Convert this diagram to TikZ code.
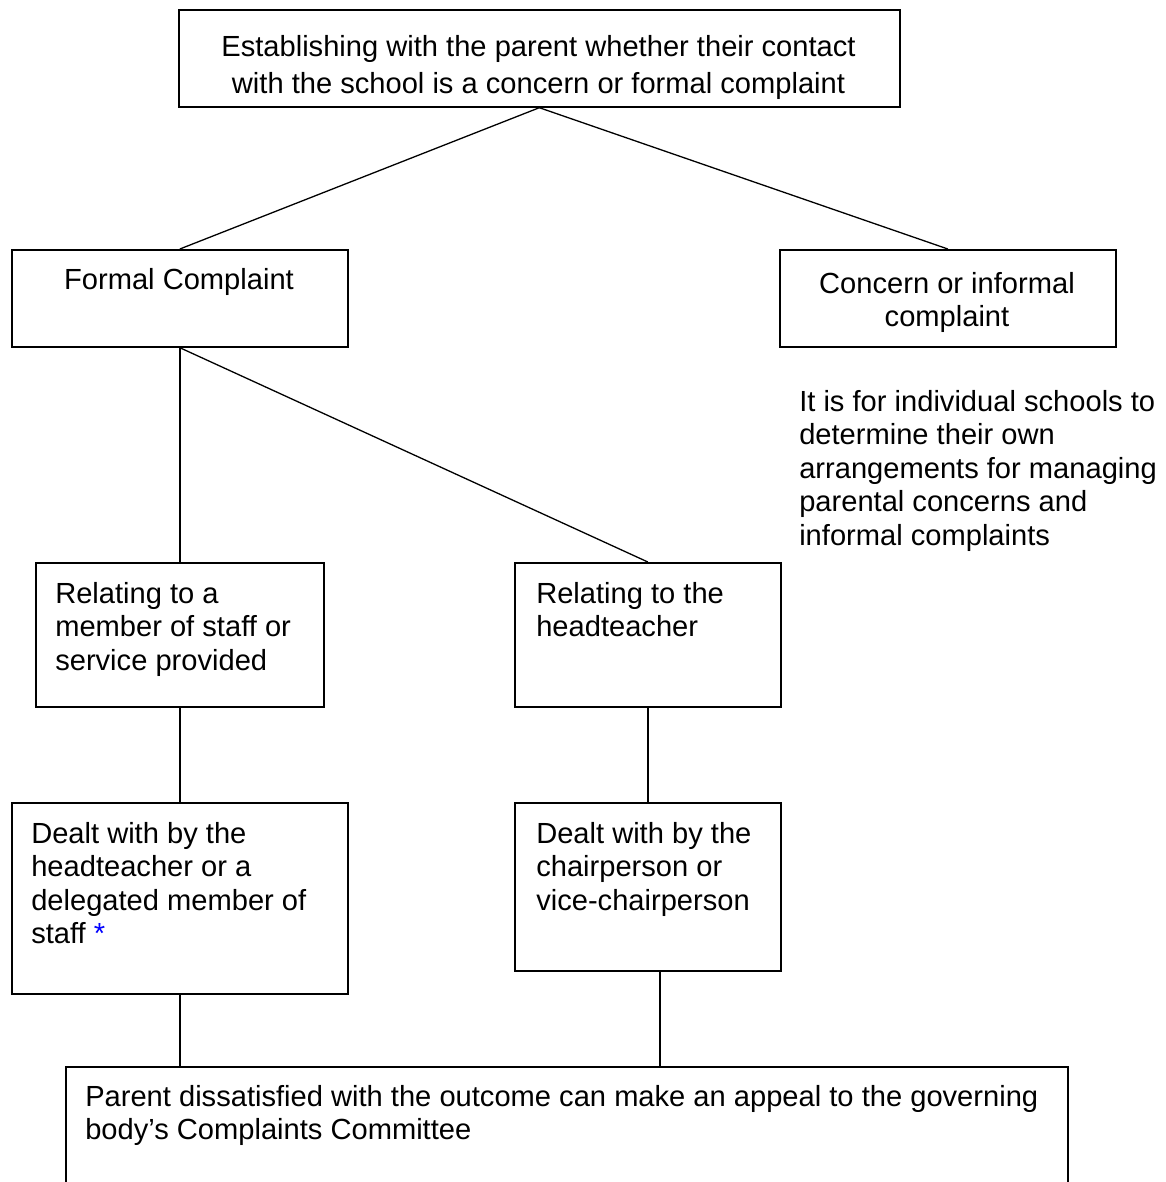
\documentclass[tikz,border=0pt]{standalone}
\usepackage{fontspec}
\setmainfont{Liberation Sans}
\newdimen\pxu \pxu=0.75pt
\begin{document}
\begin{tikzpicture}[x=0.75pt,y=-0.75pt,
  box/.style={draw, line width=1.7\pxu, inner sep=0pt, anchor=north west},
  txt/.style={inner sep=0pt, font=\fontsize{21.83pt}{25.1pt}\selectfont},
  txttop/.style={inner sep=0pt, font=\fontsize{21.83pt}{27.75pt}\selectfont},
  conn/.style={line width=1.3\pxu}]
\useasboundingbox (0,0) rectangle (1165,1182);
\clip (0,0) rectangle (1165,1182);
\fill[white] (0,0) rectangle (1165,1182);

% boxes
\node[box, minimum width=721\pxu, minimum height=97\pxu]  (top)     at (178,9) {};
\node[box, minimum width=336\pxu, minimum height=97\pxu]  (formal)  at (11,249) {};
\node[box, minimum width=336\pxu, minimum height=97\pxu]  (concern) at (779,249) {};
\node[box, minimum width=288\pxu, minimum height=144\pxu] (rel)     at (35,562) {};
\node[box, minimum width=266\pxu, minimum height=144\pxu] (ht)      at (514,562) {};
\node[box, minimum width=336\pxu, minimum height=191\pxu] (dealtH)  at (11,802) {};
\node[box, minimum width=266\pxu, minimum height=168\pxu] (chair)   at (514,802) {};
\node[box, minimum width=1002\pxu, minimum height=200\pxu] (appeal) at (65,1066) {};

% texts
\node[txttop, anchor=north, align=center] (topt) at (538.5,35)
  {Establishing with the parent whether their contact\\with the school is a concern or formal complaint};
\node[txt, anchor=north] (formalt) at (179,268) {Formal Complaint};
\node[txt, anchor=north, align=center] (concernt) at (947,272) {Concern or informal\\complaint};
\node[txt, anchor=north west, align=left] (note) at (799,390)
  {It is for individual schools to\\determine their own\\arrangements for managing\\parental concerns and\\informal complaints};
\node[txt, anchor=north west, align=left] (relt) at (55,582)
  {Relating to a\\member of staff or\\service provided};
\node[txt, anchor=north west, align=left] (htt) at (536,582)
  {Relating to the\\headteacher};
\node[txt, anchor=north west, align=left] (dealtHt) at (31,822)
  {Dealt with by the\\headteacher or a\\delegated member of\\staff \textcolor{blue}{*}};
\node[txt, anchor=north west, align=left] (chairt) at (536,822)
  {Dealt with by the\\chairperson or\\vice-chairperson};
\node[txt, anchor=north west, align=left] (appealt) at (85,1085)
  {Parent dissatisfied with the outcome can make an appeal to the governing\\body’s Complaints Committee};

% connectors
\draw[conn] (top.south) -- (formal.north);
\draw[conn] (top.south) -- (concern.north);
\draw[conn] (formal.south) -- (rel.north);
\draw[conn] (formal.south) -- (ht.north);
\draw[conn] (rel.south) -- (dealtH.north);
\draw[conn] (ht.south) -- (chair.north);
\draw[conn] (dealtH.south) -- (dealtH.south |- appeal.north);
\draw[conn] ([xshift=12\pxu]chair.south) -- ([xshift=12\pxu]chair.south |- appeal.north);
\end{tikzpicture}
\end{document}
